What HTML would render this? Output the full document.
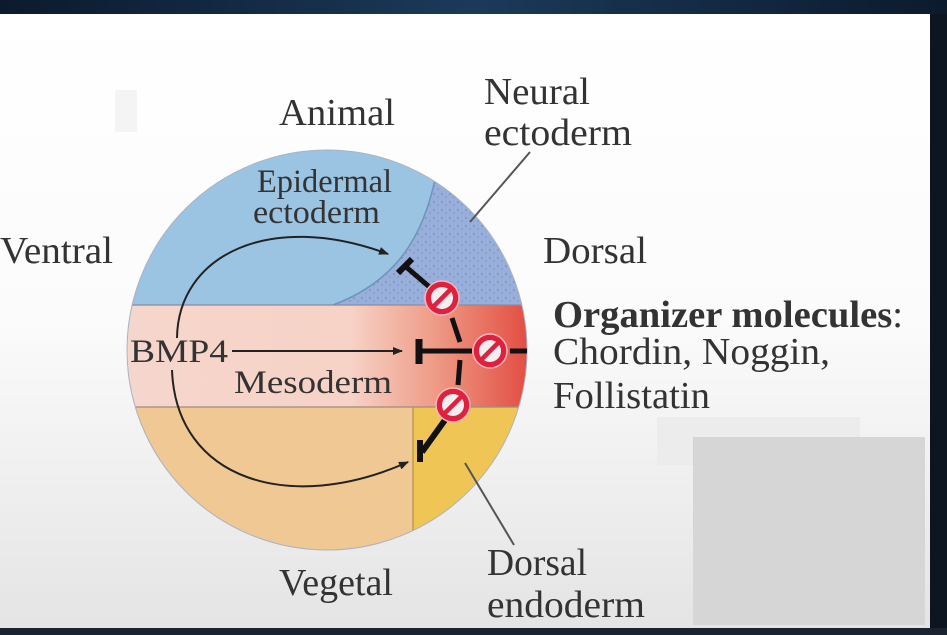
<!DOCTYPE html>
<html><head><style>
html,body{margin:0;padding:0;width:947px;height:635px;overflow:hidden;background:#0f2236;}
svg{display:block}
text{font-family:"Liberation Serif",serif;fill:#333;}
</style></head><body>
<svg width="947" height="635" viewBox="0 0 947 635">
<defs>
<linearGradient id="bg" x1="0" y1="0" x2="0" y2="1">
<stop offset="0" stop-color="#ffffff"/><stop offset="0.5" stop-color="#fbfbfb"/><stop offset="1" stop-color="#e4e4e4"/>
</linearGradient>
<linearGradient id="top" x1="0" y1="0" x2="1" y2="0">
<stop offset="0" stop-color="#0c1a2c"/><stop offset="0.5" stop-color="#1b3a5a"/><stop offset="1" stop-color="#0c1a2c"/>
</linearGradient>
<linearGradient id="meso" x1="0" y1="0" x2="1" y2="0">
<stop offset="0" stop-color="#f5d6cc"/><stop offset="0.55" stop-color="#f7d2c6"/><stop offset="0.75" stop-color="#ee9b86"/><stop offset="1" stop-color="#e0443a"/>
</linearGradient>
<pattern id="dots" width="8" height="8" patternUnits="userSpaceOnUse">
<rect width="8" height="8" fill="#98aedb"/>
<circle cx="2" cy="2" r="0.8" fill="#6f80a8"/><circle cx="6" cy="5" r="0.7" fill="#7a8cb4"/>
</pattern>
<clipPath id="c"><circle cx="327" cy="350" r="200"/></clipPath>
<marker id="ah" markerWidth="10" markerHeight="8" refX="9" refY="4" orient="auto" markerUnits="userSpaceOnUse"><path d="M0,0 L10,4 L0,8 z" fill="#222"/></marker>
</defs>
<rect width="947" height="635" fill="url(#top)"/>
<rect x="0" y="14" width="930" height="614" fill="url(#bg)"/>
<rect x="930" y="14" width="17" height="621" fill="#0c1520"/>
<rect x="0" y="628" width="947" height="7" fill="#1a2430"/>
<rect x="657" y="417" width="203" height="48" fill="#ececec"/>
<rect x="693" y="437" width="232" height="188" fill="#d6d6d6"/>
<rect x="115" y="90" width="22" height="42" fill="#f4f4f4"/>

<g clip-path="url(#c)">
<rect x="120" y="145" width="420" height="160" fill="#9bc4e3"/>
<path d="M333,305 C400,280 430,230 440,150 L540,150 L540,305 z" fill="url(#dots)"/>
<path d="M333,305 C400,280 430,230 440,150" fill="none" stroke="#6a95b8" stroke-width="1.5"/>
<rect x="120" y="305" width="420" height="102" fill="url(#meso)"/>
<rect x="120" y="407" width="420" height="150" fill="#efc893"/>
<rect x="413" y="407" width="130" height="150" fill="#efc656"/>
<line x1="120" y1="305" x2="540" y2="305" stroke="#8a8aa0" stroke-width="1.2"/>
<line x1="120" y1="407" x2="540" y2="407" stroke="#a08a80" stroke-width="1.2"/>
<line x1="413" y1="407" x2="413" y2="555" stroke="#b0914a" stroke-width="1.2"/>
</g>
<circle cx="327" cy="350" r="200" fill="none" stroke="#a8b3c3" stroke-width="1"/>

<path d="M177,338 C178,255 270,210 388,254" fill="none" stroke="#222" stroke-width="2" marker-end="url(#ah)"/>
<path d="M172,370 C176,480 290,515 408,462" fill="none" stroke="#222" stroke-width="2" marker-end="url(#ah)"/>
<line x1="232" y1="351" x2="402" y2="351" stroke="#222" stroke-width="2" marker-end="url(#ah)"/>

<g stroke="#111" stroke-width="5" fill="none">
<line x1="405" y1="266" x2="433" y2="290"/>
<line x1="398" y1="273" x2="412" y2="259" stroke-width="6"/>
<line x1="452" y1="318" x2="460" y2="342"/>
<line x1="460" y1="360" x2="458" y2="385"/>
<line x1="420" y1="351" x2="472" y2="351"/>
<line x1="419" y1="339" x2="419" y2="364" stroke-width="7"/>
<line x1="510" y1="351" x2="527" y2="351"/>
<line x1="445" y1="420" x2="422" y2="452" stroke-width="6"/>
<line x1="420" y1="440" x2="420" y2="462" stroke-width="6"/>
</g>
<g stroke="#f7b6c0" stroke-width="1.5">
<circle cx="442" cy="298" r="17" fill="#e0213d"/>
<circle cx="490" cy="351" r="17" fill="#e0213d"/>
<circle cx="453" cy="405" r="17" fill="#e0213d"/>
</g>
<g fill="#f2eef0">
<circle cx="442" cy="298" r="11"/><circle cx="490" cy="351" r="11"/><circle cx="453" cy="405" r="11"/>
</g>
<g stroke="#e0213d" stroke-width="4.5">
<line x1="434" y1="306" x2="450" y2="290"/><line x1="482" y1="359" x2="498" y2="343"/><line x1="445" y1="413" x2="461" y2="397"/>
</g>

<line x1="470" y1="222" x2="530" y2="152" stroke="#555" stroke-width="2"/>
<line x1="465" y1="463" x2="514" y2="545" stroke="#555" stroke-width="2"/>

<g font-size="38">
<text x="279" y="125" textLength="116" lengthAdjust="spacingAndGlyphs">Animal</text>
<text x="484" y="104" textLength="106" lengthAdjust="spacingAndGlyphs">Neural</text>
<text x="484" y="145" textLength="148" lengthAdjust="spacingAndGlyphs">ectoderm</text>
<text x="0" y="263" textLength="113" lengthAdjust="spacingAndGlyphs">Ventral</text>
<text x="543" y="263" textLength="104" lengthAdjust="spacingAndGlyphs">Dorsal</text>
<text x="553" y="327" textLength="350" lengthAdjust="spacingAndGlyphs" font-weight="bold">Organizer molecules<tspan font-weight="normal">:</tspan></text>
<text x="553" y="364" textLength="277" lengthAdjust="spacingAndGlyphs">Chordin, Noggin,</text>
<text x="553" y="408" textLength="157" lengthAdjust="spacingAndGlyphs">Follistatin</text>
<text x="279" y="595" textLength="114" lengthAdjust="spacingAndGlyphs">Vegetal</text>
<text x="487" y="575" textLength="100" lengthAdjust="spacingAndGlyphs">Dorsal</text>
<text x="487" y="617" textLength="158" lengthAdjust="spacingAndGlyphs">endoderm</text>
</g>
<g font-size="33">
<text x="257" y="192" fill="#2c3c55" textLength="135" lengthAdjust="spacingAndGlyphs">Epidermal</text>
<text x="253" y="223" fill="#2c3c55" textLength="127" lengthAdjust="spacingAndGlyphs">ectoderm</text>
<text x="130" y="362" textLength="98" lengthAdjust="spacingAndGlyphs">BMP4</text>
<text x="234" y="393" textLength="158" lengthAdjust="spacingAndGlyphs">Mesoderm</text>
</g>
</svg>
</body></html>
